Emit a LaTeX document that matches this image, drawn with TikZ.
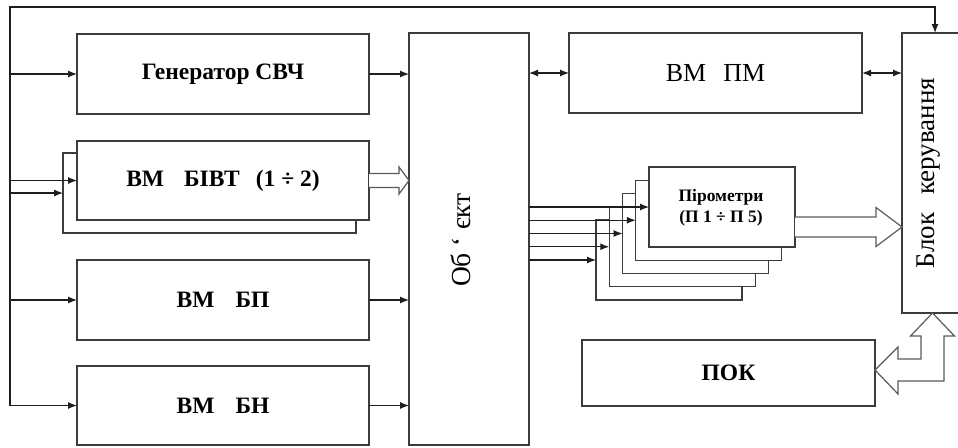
\documentclass[tikz,border=0pt]{standalone}
\usepackage{fontspec}
\setmainfont{Liberation Serif}
\usetikzlibrary{arrows.meta,calc}
\definecolor{boxc}{HTML}{3C3C3C}
\definecolor{linec}{HTML}{1E1E1E}
\definecolor{hollowc}{HTML}{5A5A5A}
\tikzset{
  box/.style={draw=boxc, line width=1.3pt, fill=white, inner sep=0pt, outer sep=0pt, align=center},
  boldlbl/.style={font=\fontsize{23.5}{27}\selectfont\bfseries},
  reglbl/.style={font=\fontsize{26}{30}\selectfont},
  pyrolbl/.style={font=\fontsize{17.5}{21}\selectfont\bfseries},
  arr/.style={draw=linec, line width=1.2pt, -{Latex[length=9pt,width=7pt]}},
  darr/.style={draw=linec, line width=1.2pt, {Latex[length=9pt,width=7pt]}-{Latex[length=9pt,width=7pt]}},
  hollow/.style={draw=hollowc, line width=1.2pt, fill=white, line join=miter},
}
\begin{document}
\begin{tikzpicture}[x=1pt,y=-1pt]
\useasboundingbox (0,0) rectangle (958,447);

% left column
\node[box, minimum width=292pt, minimum height=80pt, boldlbl] (gen) at (223,74) {Генератор СВЧ};
\node[box, minimum width=293pt, minimum height=80pt] (bivtb) at (209.5,193) {};
\node[box, minimum width=292pt, minimum height=79pt, boldlbl] (bivtf) at (223,180.5) {ВМ\hspace{20pt}БІВТ\hspace{16pt}(1 ÷ 2)};
\node[box, minimum width=292pt, minimum height=80pt, boldlbl] (bp) at (223,300) {ВМ\hspace{21pt}БП};
\node[box, minimum width=292pt, minimum height=79pt, boldlbl] (bn) at (223,405.5) {ВМ\hspace{21pt}БН};

% object
\node[box, minimum width=120pt, minimum height=412pt] (obj) at (469,239) {};
\node[reglbl, font=\fontsize{27.5}{30}\selectfont, rotate=90] (objt) at (461,240) {Об\hspace{7pt}‘\hspace{7pt}єкт};

% ВМ ПМ
\node[box, minimum width=293pt, minimum height=80pt, reglbl] (pm) at (715.5,73) {ВМ\hspace{17pt}ПМ};

% control block (right side cut off)
\node[box, minimum width=73pt, minimum height=280pt] (blok) at (938.5,173) {};
\node[reglbl, font=\fontsize{27}{30}\selectfont, rotate=90] (blokt) at (929,173) {Блок\hspace{18pt}керування};

% pyrometers
\foreach \k in {5,4,3,2,1} {
  \node[box, minimum width=146pt, minimum height=80pt] (p\k) at ({722-13.25*(\k-1)},{207+13.25*(\k-1)}) {};
}
\node[pyrolbl, align=center] (pyt) at (721,208) {Пірометри\\(П 1 ÷ П 5)};

% ПОК
\node[box, minimum width=293pt, minimum height=66pt, boldlbl] (pok) at (728.5,373) {ПОК};

% outer feedback line
\coordinate (tl) at (10,7);
\coordinate (tr) at (935,7);
\draw[arr] (tl |- bn.west) -- (tl) -- (tr) -- (tr |- blok.north);
\draw[arr] (tl |- gen.west) -- (gen.west);
\draw[arr] (tl |- bivtf.west) -- (bivtf.west);
\draw[arr] (tl |- bivtb.west) -- (bivtb.west);
\draw[arr] (tl |- bp.west) -- (bp.west);
\draw[arr] (tl |- bn.west) -- (bn.west);

% to object
\draw[arr] (gen.east) -- (gen.east -| obj.west);
\draw[arr] (bp.east) -- (bp.east -| obj.west);
\draw[arr] (bn.east) -- (bn.east -| obj.west);

% hollow arrow BIVT -> object
\coordinate (ba) at (bivtf.east);
\coordinate (bb) at (ba -| obj.west);
\draw[hollow] ($(ba)+(0,-7)$) -- ($(bb)+(-10,-7)$) -- ($(bb)+(-10,-13.5)$) -- (bb)
  -- ($(bb)+(-10,13.5)$) -- ($(bb)+(-10,7)$) -- ($(ba)+(0,7)$);

% object <-> ПМ <-> block
\draw[darr] (obj.east |- pm.west) -- (pm.west);
\draw[darr] (pm.east) -- (pm.east -| blok.west);

% object -> pyrometers
\foreach \k in {1,...,5} {
  \draw[arr] (obj.east |- p\k.west) -- (p\k.west);
}

% hollow arrow pyrometers -> block
\coordinate (ha) at ($(p1.east)+(0,20)$);
\coordinate (hb) at (ha -| blok.west);
\draw[hollow] ($(ha)+(0,-10)$) -- ($(hb)+(-26,-10)$) -- ($(hb)+(-26,-19.5)$) -- (hb)
  -- ($(hb)+(-26,19.5)$) -- ($(hb)+(-26,10)$) -- ($(ha)+(0,10)$);

% double hollow arrow ПОК <-> block
\draw[hollow] (932.5,313) -- (954.5,336) -- (944,336) -- (944,381) -- (898,381) -- (898,394)
  -- (875,370) -- (898,347) -- (898,359) -- (921,359) -- (921,336) -- (910.5,336) -- cycle;
\end{tikzpicture}
\end{document}
